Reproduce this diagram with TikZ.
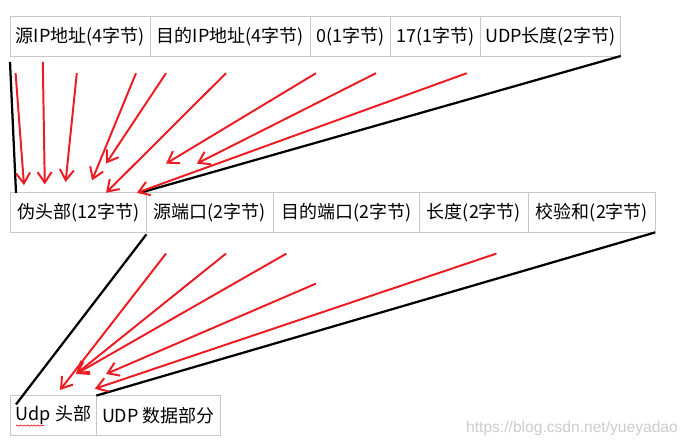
\documentclass[tikz,border=0pt]{standalone}
\usepackage{fontspec}
\usepackage{tikz}
\usetikzlibrary{positioning, arrows.meta, decorations.pathmorphing}
\newfontfamily\cjkfont{Noto Sans CJK SC}
\newfontfamily\markfont{Liberation Sans}
\definecolor{cellgray}{RGB}{200,200,200}
\definecolor{arrowred}{RGB}{236,28,36}
\tikzset{
  field/.style = {draw = cellgray, line width = 0.6pt, minimum height = 0.99cm, inner sep = 0.08cm, outer sep = 0pt, font = \cjkfont\fontsize{12.8}{15}\selectfont},
  redarrow/.style = {draw = arrowred, line width = 1.4pt, -{Straight Barb[length = 7.5pt, width = 10pt]}},
  blackline/.style = {black, line width = 1.6pt}
}

\begin{document}
\begin{tikzpicture} [scale = 1]
\useasboundingbox (0, 0) rectangle (17.225, 11.15);
\node[field, minimum width = 3.51cm, anchor = south west] (h1) at (0.25, 9.75){源IP地址(4字节)};
\node[field, minimum width = 3.99cm, right = 0pt of h1] (h2){目的IP地址(4字节)};
\node[field, minimum width = 2.01cm, right = 0pt of h2] (h3){0(1字节)};
\node[field, minimum width = 2.25cm, right = 0pt of h3] (h4){17(1字节)};
\node[field, minimum width = 3.51cm, right = 0pt of h4] (h5){UDP长度(2字节)};
\node[field, minimum width = 3.40cm, anchor = south west] (p1) at (0.26, 5.34){伪头部(12字节)};
\node[field, minimum width = 3.165cm, right = 0pt of p1] (p2){源端口(2字节)};
\node[field, minimum width = 3.655cm, right = 0pt of p2] (p3){目的端口(2字节)};
\node[field, minimum width = 2.74cm, right = 0pt of p3] (p4){长度(2字节)};
\node[field, minimum width = 3.16cm, right = 0pt of p4] (p5){校验和(2字节)};
\node[field, minimum width = 2.15cm, anchor = south west] (u1) at (0.26, 0.27){Udp 头部};
\node[field, minimum width = 3.10cm, right = 0pt of u1] (u2){UDP 数据部分};
\node[font = \markfont\fontsize{11.1}{13}\selectfont, text = black!20] (watermark) at (14.3, 0.45){https://blog.csdn.net/yueyadao};
\draw[arrowred, line width = 0.5pt, decorate, decoration = {snake, amplitude = 0.4pt, segment length = 2.5pt}] ([xshift = 0.14cm, yshift = 0.24cm]u1.south west) -- ++(0.7, 0);
\draw[blackline] ([yshift = -0.15cm]h1.south west) -- ([xshift = 0.14cm]p1.north west);
\draw[blackline] (h5.south east) -- ([xshift = -0.16cm]p1.north east);
\draw[blackline] ([yshift = -0.05cm]p1.south east) -- ([xshift = 0.14cm, yshift = -0.22cm]u1.north west);
\draw[blackline] (p5.south east) -- (u1.north east);
\foreach \sx/\sy/\ex/\ey in {0.14/-0.43/0.34/0.19, 0.82/-0.15/0.86/0.21, 1.67/-0.43/1.38/0.27, 3.15/-0.43/2.04/0.31, 3.90/-0.43/2.39/0.73, 5.40/-0.43/2.39/0.0, 7.65/-0.43/3.89/0.73, 9.15/-0.43/4.66/0.73, 11.42/-0.43/3.16/0.0}
  \draw[redarrow] ([xshift = \sx cm, yshift = \sy cm]h1.south west) -- ([xshift = \ex cm, yshift = \ey cm]p1.north west);
\foreach \sx/\sy/\ex/\ey in {3.89/-0.53/1.24/0.14, 5.39/-0.53/1.64/0.54, 6.90/-0.53/1.64/0.54, 7.64/-1.28/2.39/0.54, 12.15/-0.53/2.11/0.17}
  \draw[redarrow] ([xshift = \sx cm, yshift = \sy cm]p1.south west) -- ([xshift = \ex cm, yshift = \ey cm]u1.north west);
\end{tikzpicture}
\end{document}
